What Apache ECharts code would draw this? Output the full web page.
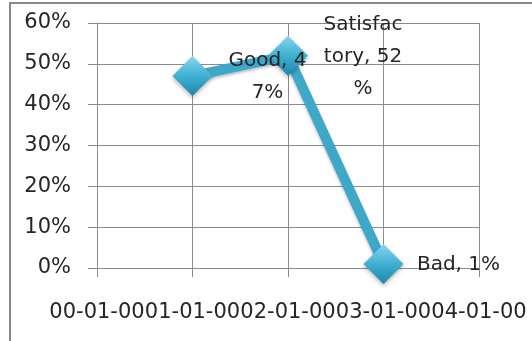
<!DOCTYPE html>
<html>
<head>
<meta charset="utf-8">
<style>
  html, body { margin: 0; padding: 0; background: #fff; }
  #chart { width: 532px; height: 341px; }
</style>
<script src="https://cdn.jsdelivr.net/npm/echarts@6/dist/echarts.min.js"></script>
</head>
<body>
<div id="chart"></div>
<script>
// Axis tick labels along the bottom
const xTickLabels = ['00-01-00', '01-01-00', '02-01-00', '03-01-00', '04-01-00'];
// Where each rating sits on the bottom axis
const pointCategories = ['01-01-00', '02-01-00', '03-01-00'];
// Rating names and their shares (percent)
const ratingNames = ['Good', 'Satisfactory', 'Bad'];
const ratingValues = [47, 52, 1];
// Value axis ticks
const yMin = 0, yMax = 60, yStep = 10;

const FONT = 'DejaVu Sans';
const TEXT = '#262626';
const GRID = '#8c8c8c';

const chart = echarts.init(document.getElementById('chart'), null, { renderer: 'canvas' });

const markerFill = new echarts.graphic.LinearGradient(0, 0, 0, 1, [
  { offset: 0, color: '#86d6ef' },
  { offset: 0.5, color: '#3fb0d2' },
  { offset: 1, color: '#1d86aa' }
]);

chart.setOption({
  animation: false,
  backgroundColor: '#fff',
  graphic: [{
    type: 'rect',
    shape: { x: 10, y: 3, width: 540, height: 360 },
    style: { fill: 'none', stroke: '#8a8a8a', lineWidth: 2 },
    silent: true,
    z: -1
  }],
  grid: { left: 97, right: 53, top: 23, bottom: 73 },
  xAxis: {
    type: 'category',
    data: xTickLabels,
    boundaryGap: false,
    axisLine: { show: true, lineStyle: { color: GRID, width: 1 } },
    axisTick: { show: true, length: 9, interval: 0, lineStyle: { color: GRID } },
    splitLine: { show: true, interval: 0, lineStyle: { color: GRID, width: 1 } },
    axisLabel: {
      interval: 0,
      hideOverlap: false,
      margin: 34,
      color: TEXT,
      fontFamily: FONT,
      fontSize: 21
    }
  },
  yAxis: {
    type: 'value',
    min: yMin,
    max: yMax,
    interval: yStep,
    axisLine: { show: true, lineStyle: { color: GRID, width: 1 } },
    axisTick: { show: true, length: 9, lineStyle: { color: GRID } },
    splitLine: { show: true, lineStyle: { color: GRID, width: 1 } },
    axisLabel: {
      formatter: '{value}%',
      margin: 26,
      color: TEXT,
      fontFamily: FONT,
      fontSize: 21
    }
  },
  series: [{
    type: 'line',
    data: pointCategories.map((c, i) => ({ value: [c, ratingValues[i]], name: ratingNames[i] })),
    symbol: 'diamond',
    symbolSize: 40,
    showAllSymbol: true,
    lineStyle: {
      color: '#3ea8c9',
      width: 10,
      shadowColor: 'rgba(0,0,0,0.25)',
      shadowBlur: 3,
      shadowOffsetY: 2
    },
    itemStyle: {
      color: markerFill,
      borderWidth: 0,
      shadowColor: 'rgba(0,0,0,0.3)',
      shadowBlur: 4,
      shadowOffsetY: 2
    },
    label: {
      show: true,
      position: ['50%', '50%'],
      offset: [75, 1],
      align: 'center',
      verticalAlign: 'middle',
      width: 85,
      overflow: 'breakAll',
      lineHeight: 32,
      color: TEXT,
      fontFamily: FONT,
      fontSize: 20,
      formatter: p => p.name + ', ' + p.value[1] + '%'
    },
    z: 3
  }]
});
</script>
</body>
</html>
